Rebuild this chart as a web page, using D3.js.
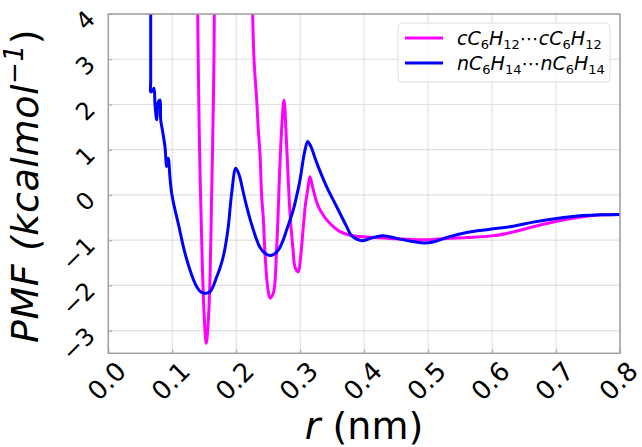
<!DOCTYPE html>
<html>
<head>
<meta charset="utf-8">
<script src="https://cdn.jsdelivr.net/npm/d3@7"></script>
<style>
  html, body { margin: 0; padding: 0; background: #fff; }
  svg { display: block; font-family: "DejaVu Sans", sans-serif; }
</style>
</head>
<body>
<svg id="chart" width="642" height="447"></svg>
<script>
// ---- data ----
const xTicks = [0.0, 0.1, 0.2, 0.3, 0.4, 0.5, 0.6, 0.7, 0.8];
const yTicks = [-3, -2, -1, 0, 1, 2, 3, 4];

// cC6H12...cC6H12 (magenta)
const rCyclo = [0.1379, 0.1398, 0.1410, 0.1434, 0.1460, 0.1476, 0.1504, 0.1532, 0.1563, 0.1590, 0.1613, 0.1632, 0.1652, 0.1657, 0.1676,
  0.2239, 0.2257, 0.2278, 0.2320, 0.2345, 0.2372, 0.2398, 0.2423, 0.2450, 0.2489, 0.2528, 0.2580, 0.2633, 0.2684, 0.2716, 0.2747,
  0.2789, 0.2841, 0.2888, 0.2919, 0.2970, 0.3005, 0.3049, 0.3083, 0.3117, 0.3153, 0.3205, 0.3255, 0.3310, 0.3388, 0.3466, 0.3623,
  0.3779, 0.3935, 0.4143, 0.4404, 0.4665, 0.4978, 0.5291, 0.5603, 0.5968, 0.6229, 0.6541, 0.6854, 0.7167, 0.7479, 0.7739, 0.8000];
const pmfCyclo = [6, 4, 2.5, 0.5, -1.0, -1.81, -2.8, -3.28, -2.8, -1.85, -0.2, 1.2, 2.98, 4, 6,
  6, 4, 3.0, 2.1, 1.44, 0.9, -0.04, -0.5, -1.29, -2.0, -2.28, -2.17, -1.14, 0.70, 1.6, 2.10,
  1.07, -0.41, -1.2, -1.59, -1.70, -1.4, -0.70, -0.2, 0.11, 0.40, 0.11, -0.15, -0.33, -0.5, -0.63, -0.81,
  -0.89, -0.92, -0.94, -0.96, -0.98, -0.99, -0.96, -0.94, -0.91, -0.85, -0.74, -0.63, -0.54, -0.47, -0.44, -0.43];

// nC6H14...nC6H14 (blue)
const rHexane = [0.0663, 0.0663, 0.0663, 0.0663, 0.0691, 0.0714, 0.0730, 0.0757, 0.0782, 0.0808, 0.0819, 0.0850, 0.0886, 0.0913, 0.0938, 0.0965, 0.0991,
  0.1043, 0.1094, 0.1173, 0.1225, 0.1277, 0.1330, 0.1382, 0.1435, 0.1485, 0.1540, 0.1590, 0.1640, 0.1695, 0.1745, 0.1798, 0.1840,
  0.1876, 0.1929, 0.1992, 0.2025, 0.2059, 0.2110, 0.2164, 0.2215, 0.2267, 0.2320, 0.2372, 0.2450,
  0.2528, 0.2590, 0.2658, 0.2725, 0.2789, 0.2840, 0.2892, 0.2945, 0.2997, 0.3040, 0.3075, 0.3117, 0.3180, 0.3230, 0.3283, 0.3414,
  0.3571, 0.3727, 0.3805, 0.3962, 0.4143, 0.4299,
  0.4509, 0.4717, 0.4925, 0.5081, 0.5291, 0.5603, 0.5968, 0.6332, 0.6645, 0.7010, 0.7375, 0.7687, 0.8000];
const pmfHexane = [6, 4, 2.5, 2.28, 2.30, 2.36, 2.0, 1.66, 2.06, 2.10, 1.66, 1.40, 1.07, 0.63, 0.81, 0.37, 0.04,
  -0.33, -0.63, -1.14, -1.42, -1.66, -1.87, -2.03, -2.13, -2.17, -2.17, -2.14, -2.02, -1.81, -1.62, -1.36, -1.05,
  -0.70, 0.04, 0.59, 0.52, 0.38, 0.06, -0.26, -0.53, -0.77, -0.99, -1.16, -1.29,
  -1.34, -1.31, -1.22, -1.03, -0.77, -0.56, -0.33, -0.02, 0.33, 0.72, 0.99, 1.18, 1.03, 0.82, 0.62, 0.18,
  -0.26, -0.70, -0.90, -1.01, -0.94, -0.90,
  -0.96, -1.02, -1.06, -1.04, -0.94, -0.83, -0.76, -0.69, -0.60, -0.52, -0.46, -0.44, -0.43];

const seriesNames = ["cyclo", "hexane"];
const seriesColors = ["#ff00ff", "#0000ff"];

(function () {
// ---- layout ----
const svg = d3.select("#chart");
const pL = 108.3, pR = 620, pT = 14, pB = 353.3;
const x = d3.scaleLinear().domain([0, 0.8]).range([pL, pR]);
const y = d3.scaleLinear().domain([-3.5, 4]).range([pB, pT]);

svg.append("defs").append("clipPath").attr("id", "plotclip")
  .append("rect").attr("x", pL).attr("y", pT).attr("width", pR - pL).attr("height", pB - pT);

// grid
const grid = svg.append("g");
grid.selectAll("line.vx").data(xTicks).join("line")
  .attr("x1", d => x(d)).attr("x2", d => x(d)).attr("y1", pT).attr("y2", pB)
  .attr("stroke", "#e0e0e0").attr("stroke-width", 1.2);
grid.selectAll("line.hy").data(yTicks).join("line")
  .attr("y1", d => y(d)).attr("y2", d => y(d)).attr("x1", pL).attr("x2", pR)
  .attr("stroke", "#e0e0e0").attr("stroke-width", 1.2);

// axes (ticks inward)
const xAxis = svg.append("g").attr("transform", `translate(0,${pB})`)
  .call(d3.axisBottom(x).tickValues(xTicks).tickSize(-4).tickFormat(""));
const yAxis = svg.append("g").attr("transform", `translate(${pL},0)`)
  .call(d3.axisLeft(y).tickValues(yTicks).tickSize(-4).tickFormat(""));
[xAxis, yAxis].forEach(a => {
  a.select(".domain").remove();
  a.selectAll(".tick line").attr("stroke", "#aaaaaa").attr("stroke-width", 1.2);
});

// tick labels
svg.append("g").selectAll("text").data(xTicks).join("text")
  .attr("transform", d => `translate(${x(d) - 1.5},${381}) rotate(-45)`)
  .attr("text-anchor", "middle").attr("dominant-baseline", "central")
  .attr("font-size", 26).attr("fill", "#000")
  .text(d => d.toFixed(1));
svg.append("g").selectAll("text").data(yTicks).join("text")
  .attr("transform", d => `translate(91,${y(d) + 1}) rotate(-45)`)
  .attr("text-anchor", "end").attr("dominant-baseline", "central")
  .attr("font-size", 24).attr("fill", "#000")
  .text(d => d < 0 ? "\u2212" + Math.abs(d) : String(d));

// lines
const line = d3.line().x(d => x(d[0])).y(d => y(d[1])).curve(d3.curveCatmullRom.alpha(0.5));
const dataSets = [d3.zip(rCyclo, pmfCyclo), d3.zip(rHexane, pmfHexane)];
const plot = svg.append("g").attr("clip-path", "url(#plotclip)");
plot.selectAll("path").data(dataSets).join("path")
  .attr("d", line).attr("fill", "none")
  .attr("stroke", (d, i) => seriesColors[i]).attr("stroke-width", 3)
  .attr("stroke-linejoin", "round");

// frame
svg.append("rect").attr("x", pL).attr("y", pT).attr("width", pR - pL).attr("height", pB - pT)
  .attr("fill", "none").attr("stroke", "#a0a0a0").attr("stroke-width", 1.5);

// legend
const lg = svg.append("g");
lg.append("rect").attr("x", 398).attr("y", 23).attr("width", 212).attr("height", 59).attr("rx", 4)
  .attr("fill", "#fff").attr("fill-opacity", 0.8).attr("stroke", "#dddddd");
const legRows = [["c", "n"], ["12", "14"]];
seriesNames.forEach((s, i) => {
  const yy = 38 + i * 25;
  lg.append("line").attr("x1", 405).attr("x2", 443).attr("y1", yy).attr("y2", yy)
    .attr("stroke", seriesColors[i]).attr("stroke-width", 3);
  const t = lg.append("text").attr("x", 457).attr("y", yy + 6.5).attr("font-size", 19);
  const pre = legRows[0][i], sub = legRows[1][i];
  const addMol = () => {
    t.append("tspan").attr("font-style", "italic").text(pre + "C");
    t.append("tspan").attr("font-size", 13).attr("dy", 4).text("6");
    t.append("tspan").attr("font-style", "italic").attr("dy", -4).text("H");
    t.append("tspan").attr("font-size", 13).attr("dy", 4).text(sub);
  };
  addMol();
  t.append("tspan").attr("dy", -4).text("\u22EF");
  addMol();
});

// axis titles
const yl = svg.append("text").attr("transform", `translate(38,186) rotate(-90)`)
  .attr("text-anchor", "middle").attr("font-size", 38).attr("font-style", "italic")
  .attr("letter-spacing", 0.6);
yl.append("tspan").text("PMF (kcalmol");
yl.append("tspan").attr("font-size", 26).attr("dy", -15).text("\u22121");
yl.append("tspan").attr("dy", 15).attr("font-style", "normal").text(")");

const xl = svg.append("text").attr("x", 364).attr("y", 439).attr("text-anchor", "middle").attr("font-size", 38);
xl.append("tspan").attr("font-style", "italic").text("r");
xl.append("tspan").text(" (nm)");
})();
</script>
</body>
</html>
